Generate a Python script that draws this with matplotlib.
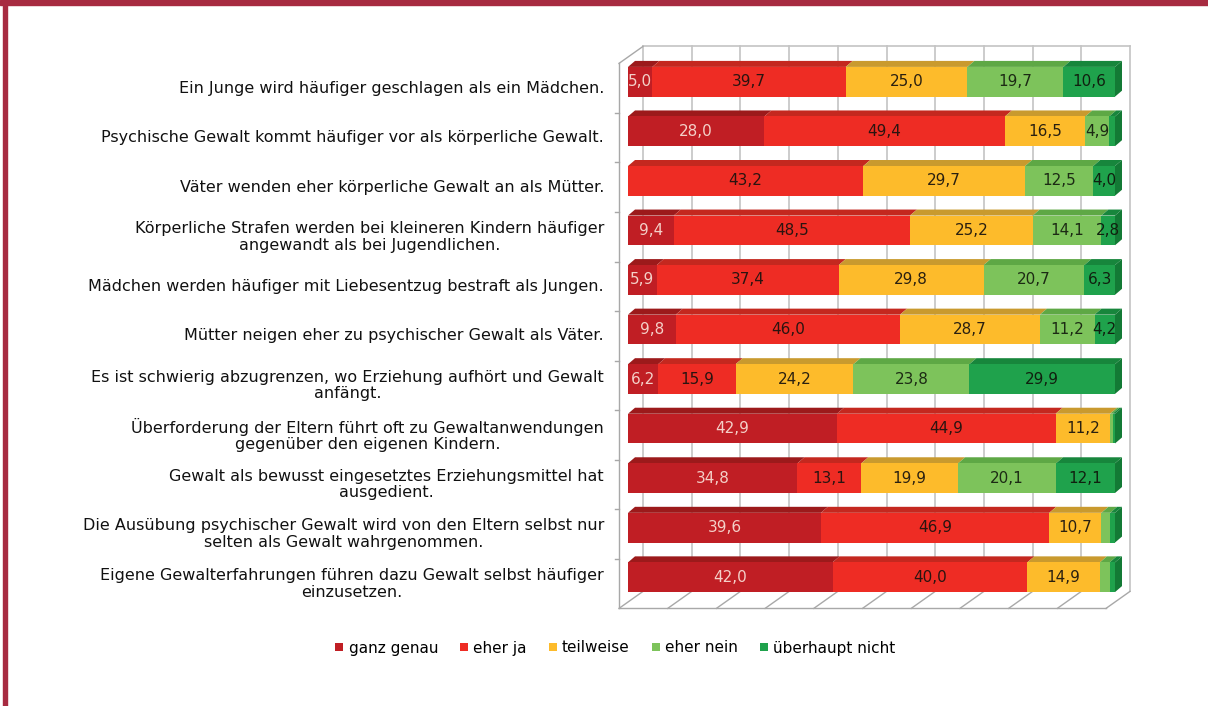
"""Stacked 3-D style bar chart: agreement with statements about violence in upbringing"""

import numpy as np

import matplotlib.pyplot as plt
from matplotlib.patches import Polygon, Rectangle
from matplotlib.lines import Line2D
from matplotlib.transforms import ScaledTranslation

statements = [
    'Ein Junge wird häufiger geschlagen als ein Mädchen.',
    'Psychische Gewalt kommt häufiger vor als körperliche Gewalt.',
    'Väter wenden eher körperliche Gewalt an als Mütter.',
    'Körperliche Strafen werden bei kleineren Kindern häufiger\nangewandt als bei Jugendlichen.',
    'Mädchen werden häufiger mit Liebesentzug bestraft als Jungen.',
    'Mütter neigen eher zu psychischer Gewalt als Väter.',
    'Es ist schwierig abzugrenzen, wo Erziehung aufhört und Gewalt\nanfängt.',
    'Überforderung der Eltern führt oft zu Gewaltanwendungen\ngegenüber den eigenen Kindern.',
    'Gewalt als bewusst eingesetztes Erziehungsmittel hat\nausgedient.',
    'Die Ausübung psychischer Gewalt wird von den Eltern selbst nur\nselten als Gewalt wahrgenommen.',
    'Eigene Gewalterfahrungen führen dazu Gewalt selbst häufiger\neinzusetzen.',
]

series_names = ['ganz genau', 'eher ja', 'teilweise', 'eher nein', 'überhaupt nicht']

ganz_genau = [5.0, 28.0, 0.0, 9.4, 5.9, 9.8, 6.2, 42.9, 34.8, 39.6, 42.0]
eher_ja = [39.7, 49.4, 43.2, 48.5, 37.4, 46.0, 15.9, 44.9, 13.1, 46.9, 40.0]
teilweise = [25.0, 16.5, 29.7, 25.2, 29.8, 28.7, 24.2, 11.2, 19.9, 10.7, 14.9]
eher_nein = [19.7, 4.9, 12.5, 14.1, 20.7, 11.2, 23.8, 0.5, 20.1, 1.8, 2.0]
ueberhaupt_nicht = [10.6, 1.2, 4.0, 2.8, 6.3, 4.2, 29.9, 0.5, 12.1, 1.0, 1.1]

front_colors = ['#c01e24', '#ee2c24', '#fdbb2b', '#7dc35b', '#1fa24c']
top_colors = ['#9c1a1b', '#c4281f', '#c99a2e', '#5ea845', '#17863c']
side_colors = ['#8e1717', '#b5241d', '#d09a20', '#5a9e40', '#137a35']
label_colors = ['#f4d0c8', '#2a1410', '#2a2010', '#1c2a14', '#10200f']

FRAME = '#a72b41'
GRID = '#c4c4c4'


def main():
    fig = plt.figure(figsize=(12.08, 7.06), dpi=100)
    plt.rcParams['font.family'] = ['DejaVu Sans']

    W, H = 1208, 706
    ax = fig.add_axes([628 / W, 104 / H, 487 / W, 545 / H])
    ax.set_xlim(0, 100)
    ax.set_ylim(10.5, -0.5)
    ax.axis('off')

    # pixel -> data conversion for the oblique depth
    kx = 100 / (487)
    ky = 11 / (545)

    def shift(x, y, dx, dy):
        return x + dx * kx, y - dy * ky

    back = (15, 10.6)
    front = (-9, -6.4)
    depth = (7, 6)

    # back wall grid, floor and left wall
    for gx in np.arange(0, 101, 10):
        x0, y0 = shift(gx, -0.5, *back)
        x1, y1 = shift(gx, 10.5, *back)
        ax.add_line(Line2D([x0, x1], [y0, y1], color=GRID, lw=1.2, zorder=0.5, clip_on=False))
        fx, fy = shift(gx, 10.5, *front)
        ax.add_line(Line2D([fx, x1], [fy, y1], color='#a8a8a8', lw=1.0, zorder=0.5, clip_on=False))
    bx0, by0 = shift(0, -0.5, *back)
    bx1, _ = shift(100, -0.5, *back)
    ax.add_line(Line2D([bx0, bx1], [by0, by0], color=GRID, lw=1.2, zorder=0.5, clip_on=False))
    fx0, fy0 = shift(0, -0.5, *front)
    fx1, fy1 = shift(0, 10.5, *front)
    fx2, _ = shift(100, 10.5, *front)
    ax.add_line(Line2D([fx0, fx1], [fy0, fy1], color='#a8a8a8', lw=1.0, zorder=0.5, clip_on=False))
    ax.add_line(Line2D([fx0, bx0], [fy0, by0], color='#a8a8a8', lw=1.0, zorder=0.5, clip_on=False))
    ax.add_line(Line2D([fx1, fx2], [fy1, fy1], color='#a8a8a8', lw=1.0, zorder=0.5, clip_on=False))
    for b in np.arange(0.5, 10, 1.0):
        tx, ty = shift(0, b, *front)
        ax.add_line(Line2D([tx - 4 * kx, tx], [ty, ty], color='#a8a8a8', lw=1.0,
                           zorder=0.5, clip_on=False))

    data = np.array([ganz_genau, eher_ja, teilweise, eher_nein, ueberhaupt_nicht])
    shares = data / data.sum(axis=0) * 100
    lefts = np.vstack([np.zeros(len(statements)), np.cumsum(shares, axis=0)[:-1]])
    ypos = np.arange(len(statements))
    h = 0.6

    for k in range(len(series_names)):
        cont = ax.barh(ypos, shares[k], left=lefts[k], height=h, color=front_colors[k],
                       zorder=3 + 2 * k, label=series_names[k])
        labels = [f'{v:.1f}'.replace('.', ',') if v >= 2.5 else '' for v in data[k]]
        ax.bar_label(cont, labels=labels, label_type='center', color=label_colors[k],
                     fontsize=11, zorder=20)
        for i in ypos:
            w = shares[k, i]
            if w <= 0:
                continue
            x0, x1 = lefts[k, i], lefts[k, i] + w
            yt, yb = i - h / 2, i + h / 2
            top = [(x0, yt), (x1, yt), shift(x1, yt, *depth), shift(x0, yt, *depth)]
            ax.add_patch(Polygon(top, closed=True, fc=top_colors[k], ec='none',
                                 zorder=2 + 2 * k, clip_on=False))
            if k == len(series_names) - 1 or shares[k + 1:, i].sum() == 0:
                side = [(x1, yt), shift(x1, yt, *depth), shift(x1, yb, *depth), (x1, yb)]
                ax.add_patch(Polygon(side, closed=True, fc=side_colors[k], ec='none',
                                     zorder=2 + 2 * k, clip_on=False))

    # category labels sit on the front plane
    offset = ax.transData + ScaledTranslation(-24 / 100, -6.4 / 100, fig.dpi_scale_trans)
    for i, s in enumerate(statements):
        ax.text(0, i, s, transform=offset, ha='right', va='center', multialignment='center',
                fontsize=11.5, color='#111111', linespacing=1.15)

    handles = [Line2D([], [], marker='s', ls='none', markersize=6, color=c,
                      markeredgewidth=0) for c in front_colors]
    fig.legend(handles, series_names, loc='center', bbox_to_anchor=(615 / W, 1 - 648 / H),
               ncol=5, frameon=False, fontsize=11, handlelength=0.6, handletextpad=0.3,
               columnspacing=1.4)

    fig.add_artist(Rectangle((0, 1 - 5 / H), 1, 5 / H, transform=fig.transFigure,
                             color=FRAME, zorder=50))
    fig.add_artist(Rectangle((3 / W, 0), 4 / W, 1, transform=fig.transFigure,
                             color=FRAME, zorder=50))

    fig.savefig('out.png', dpi=100)


if __name__ == "__main__":
    main()
